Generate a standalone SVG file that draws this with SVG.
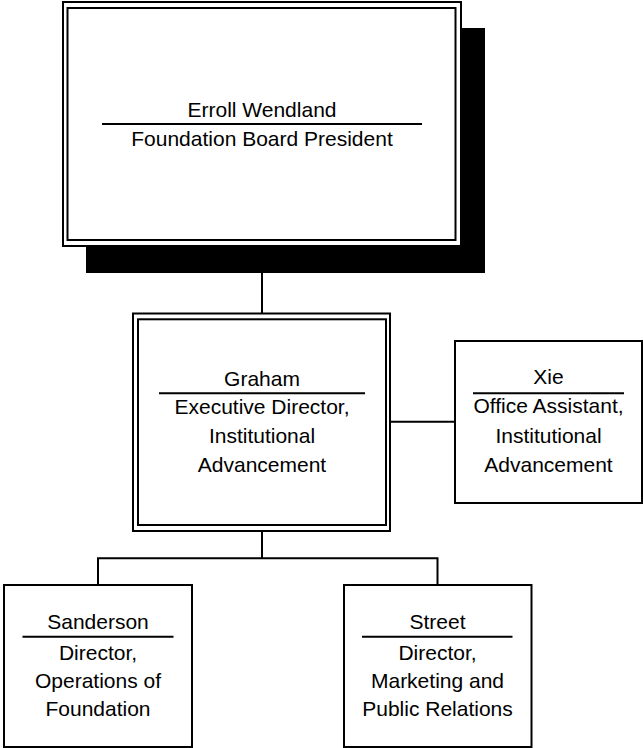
<svg xmlns="http://www.w3.org/2000/svg" width="643" height="748" viewBox="0 0 643 748">
<style>
.box{fill:#fff;stroke:#000;stroke-width:2}
.in{fill:none;stroke:#000;stroke-width:2}
.sep{stroke:#000;stroke-width:2}
.conn{stroke:#000;stroke-width:2;fill:none}
text{font-family:"Liberation Sans",Arial,sans-serif;font-size:21px;fill:#000;text-anchor:middle}
</style>
<rect width="643" height="748" fill="#fff"/>
<g id="connectors">
<line class="conn" x1="262" y1="246" x2="262" y2="313"/>
<line class="conn" x1="390" y1="421.7" x2="455" y2="421.7"/>
<line class="conn" x1="262" y1="531" x2="262" y2="558.3"/>
<polyline class="conn" points="98,585 98,558.3 437.5,558.3 437.5,585"/>
</g>
<g id="node-wendland">
<rect x="86" y="28" width="399" height="245" fill="#000"/>
<rect class="box" x="63" y="2" width="398" height="244"/>
<rect class="in" x="67.5" y="8" width="388" height="232"/>
<text x="262" y="116.7">Erroll Wendland</text>
<line class="sep" x1="102" y1="124" x2="422" y2="124"/>
<text x="262" y="145.7">Foundation Board President</text>
</g>
<g id="node-graham">
<rect class="box" x="133" y="313.5" width="257" height="217.5"/>
<rect class="in" x="138" y="319.3" width="248" height="205.7"/>
<text x="262" y="386">Graham</text>
<line class="sep" x1="159" y1="393.3" x2="365" y2="393.3"/>
<text x="262" y="414.3">Executive Director,</text>
<text x="262" y="442.7">Institutional</text>
<text x="262" y="471.7">Advancement</text>
</g>
<g id="node-xie">
<rect class="box" x="455" y="341" width="187" height="162"/>
<text x="548.5" y="384">Xie</text>
<line class="sep" x1="473" y1="393.3" x2="624" y2="393.3"/>
<text x="548.5" y="413.3">Office Assistant,</text>
<text x="548.5" y="442.7">Institutional</text>
<text x="548.5" y="471.7">Advancement</text>
</g>
<g id="node-sanderson">
<rect class="box" x="4" y="585" width="188" height="162"/>
<text x="98" y="629.3">Sanderson</text>
<line class="sep" x1="22.5" y1="636.7" x2="173.5" y2="636.7"/>
<text x="98" y="660">Director,</text>
<text x="98" y="688">Operations of</text>
<text x="98" y="716">Foundation</text>
</g>
<g id="node-street">
<rect class="box" x="344" y="585" width="187.5" height="162"/>
<text x="437.5" y="629.3">Street</text>
<line class="sep" x1="362" y1="636.7" x2="512.5" y2="636.7"/>
<text x="437.5" y="660">Director,</text>
<text x="437.5" y="688">Marketing and</text>
<text x="437.5" y="716">Public Relations</text>
</g>
</svg>
